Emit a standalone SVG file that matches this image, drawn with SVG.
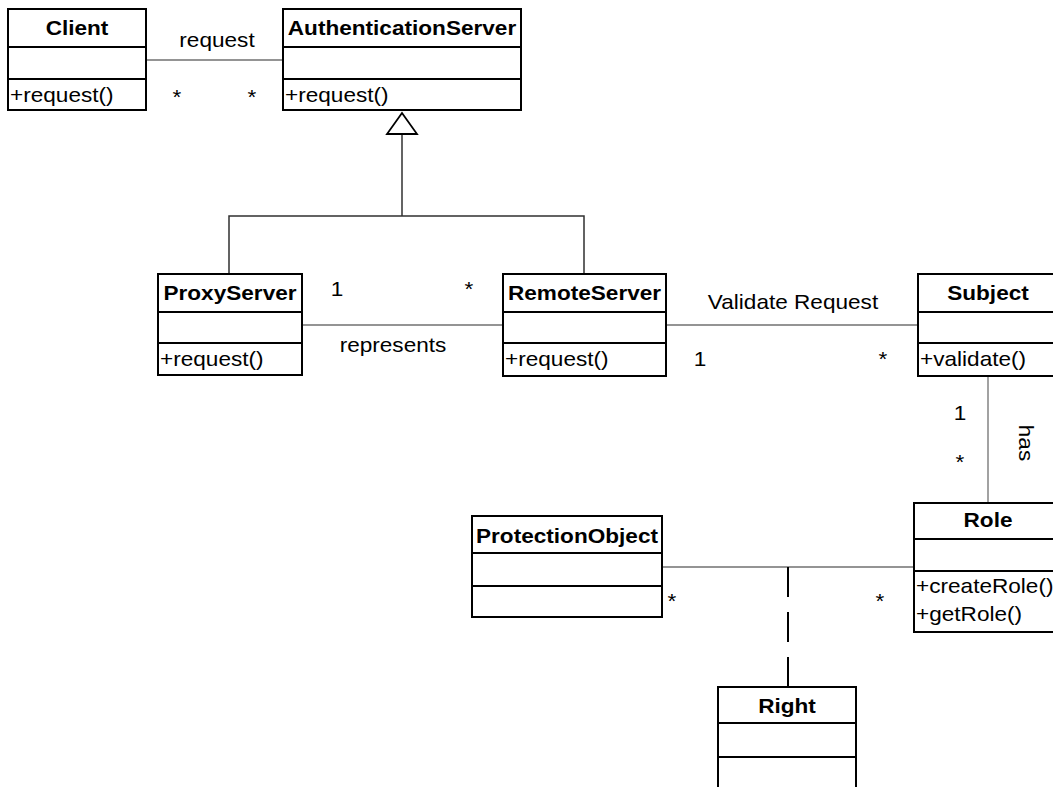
<svg xmlns="http://www.w3.org/2000/svg" width="1053" height="787" viewBox="0 0 1053 787">
  <style>
    text { font-family: "Liberation Sans", Arial, sans-serif; font-size: 20px; fill: #000; }
    .name { font-weight: bold; text-anchor: middle; }
    .mid { text-anchor: middle; }
    .box { fill: #fff; stroke: #000; stroke-width: 2; }
    .sep { stroke: #000; stroke-width: 2; }
    .assoc { stroke: #707070; stroke-width: 1.3; fill: none; }
    .gen { stroke: #303030; stroke-width: 1.5; fill: none; }
    .dash { stroke: #000; stroke-width: 2; stroke-dasharray: 30 15; fill: none; }
  </style>

  <!-- connectors -->
  <g id="connectors">
    <line class="assoc" x1="146" y1="60" x2="283" y2="60"/>
    <line class="assoc" x1="302" y1="325" x2="503" y2="325"/>
    <line class="assoc" x1="666" y1="325" x2="918" y2="325"/>
    <line class="assoc" x1="988" y1="376" x2="988" y2="503"/>
    <line class="assoc" x1="662" y1="567" x2="914" y2="567"/>
    <line class="dash" x1="788" y1="567" x2="788" y2="687"/>
    <polyline class="gen" points="229,274 229,216 584,216 584,274"/>
    <line class="gen" x1="402" y1="216" x2="402" y2="134"/>
    <polygon points="402,113 387,134 417,134" fill="#fff" stroke="#000" stroke-width="1.8"/>

    <text class="mid" transform="translate(217,47) scale(1.13,1)">request</text>
    <text class="mid" transform="translate(177,104) scale(1.13,1)">*</text>
    <text class="mid" transform="translate(252,104) scale(1.13,1)">*</text>
    <text class="mid" transform="translate(337,296) scale(1.13,1)">1</text>
    <text class="mid" transform="translate(469,296) scale(1.13,1)">*</text>
    <text class="mid" transform="translate(393,352) scale(1.13,1)">represents</text>
    <text class="mid" transform="translate(793,309) scale(1.13,1)">Validate Request</text>
    <text class="mid" transform="translate(700,366) scale(1.13,1)">1</text>
    <text class="mid" transform="translate(883,366) scale(1.13,1)">*</text>
    <text class="mid" transform="translate(960,420) scale(1.13,1)">1</text>
    <text class="mid" transform="translate(960,469) scale(1.13,1)">*</text>
    <text class="mid" transform="translate(1019,443) rotate(90) scale(1.13,1)">has</text>
    <text class="mid" transform="translate(672,608) scale(1.13,1)">*</text>
    <text class="mid" transform="translate(880,608) scale(1.13,1)">*</text>
  </g>

  <g id="Client">
    <rect class="box" x="8" y="9" width="138" height="101"/>
    <line class="sep" x1="8" y1="47" x2="146" y2="47"/>
    <line class="sep" x1="8" y1="79" x2="146" y2="79"/>
    <text class="name" transform="translate(77,35) scale(1.13,1)">Client</text>
    <text transform="translate(10,102) scale(1.13,1)">+request()</text>
  </g>

  <g id="AuthenticationServer">
    <rect class="box" x="283" y="9" width="238" height="101"/>
    <line class="sep" x1="283" y1="47" x2="521" y2="47"/>
    <line class="sep" x1="283" y1="79" x2="521" y2="79"/>
    <text class="name" transform="translate(402,35) scale(1.13,1)">AuthenticationServer</text>
    <text transform="translate(285,102) scale(1.13,1)">+request()</text>
  </g>

  <g id="ProxyServer">
    <rect class="box" x="158" y="274" width="144" height="101"/>
    <line class="sep" x1="158" y1="312" x2="302" y2="312"/>
    <line class="sep" x1="158" y1="343" x2="302" y2="343"/>
    <text class="name" transform="translate(230,300) scale(1.13,1)">ProxyServer</text>
    <text transform="translate(160,366) scale(1.13,1)">+request()</text>
  </g>

  <g id="RemoteServer">
    <rect class="box" x="503" y="274" width="163" height="102"/>
    <line class="sep" x1="503" y1="312" x2="666" y2="312"/>
    <line class="sep" x1="503" y1="343" x2="666" y2="343"/>
    <text class="name" transform="translate(584.5,300) scale(1.13,1)">RemoteServer</text>
    <text transform="translate(505,366) scale(1.13,1)">+request()</text>
  </g>

  <g id="Subject">
    <rect class="box" x="918" y="274" width="140" height="102"/>
    <line class="sep" x1="918" y1="312" x2="1058" y2="312"/>
    <line class="sep" x1="918" y1="343" x2="1058" y2="343"/>
    <text class="name" transform="translate(988,300) scale(1.13,1)">Subject</text>
    <text transform="translate(920,366) scale(1.13,1)">+validate()</text>
  </g>

  <g id="Role">
    <rect class="box" x="914" y="503" width="148" height="129"/>
    <line class="sep" x1="914" y1="539" x2="1062" y2="539"/>
    <line class="sep" x1="914" y1="571" x2="1062" y2="571"/>
    <text class="name" transform="translate(988,527) scale(1.13,1)">Role</text>
    <text transform="translate(916,593) scale(1.13,1)">+createRole()</text>
    <text transform="translate(916,621) scale(1.13,1)">+getRole()</text>
  </g>

  <g id="ProtectionObject">
    <rect class="box" x="472" y="516" width="190" height="101"/>
    <line class="sep" x1="472" y1="553" x2="662" y2="553"/>
    <line class="sep" x1="472" y1="586" x2="662" y2="586"/>
    <text class="name" transform="translate(567,543) scale(1.13,1)">ProtectionObject</text>
  </g>

  <g id="Right">
    <rect class="box" x="718" y="687" width="138" height="112"/>
    <line class="sep" x1="718" y1="723" x2="856" y2="723"/>
    <line class="sep" x1="718" y1="757" x2="856" y2="757"/>
    <text class="name" transform="translate(787,713) scale(1.13,1)">Right</text>
  </g>
</svg>
